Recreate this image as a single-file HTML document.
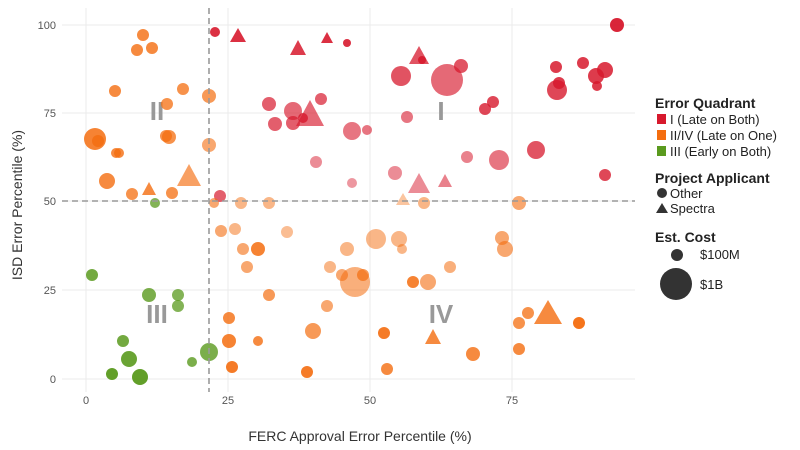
<!DOCTYPE html><html><head><meta charset="utf-8"><style>body{margin:0;background:#fff}svg{display:block;font-family:"Liberation Sans",sans-serif}</style></head><body>
<svg width="800" height="450" xmlns="http://www.w3.org/2000/svg">
<g stroke="#ebebeb" stroke-width="1">
<line x1="86" y1="8" x2="86" y2="392"/><line x1="228" y1="8" x2="228" y2="392"/><line x1="370" y1="8" x2="370" y2="392"/><line x1="512" y1="8" x2="512" y2="392"/>
<line x1="62" y1="25" x2="635" y2="25"/><line x1="62" y1="113" x2="635" y2="113"/><line x1="62" y1="201" x2="635" y2="201"/><line x1="62" y1="290" x2="635" y2="290"/><line x1="62" y1="379" x2="635" y2="379"/>
</g>
<g fill="#555" font-size="11" text-anchor="end">
<text x="56" y="29">100</text><text x="56" y="117">75</text><text x="56" y="205">50</text><text x="56" y="294">25</text><text x="56" y="383">0</text></g>
<g fill="#555" font-size="11" text-anchor="middle">
<text x="86" y="404">0</text><text x="228" y="404">25</text><text x="370" y="404">50</text><text x="512" y="404">75</text></g>
<text x="360" y="441" font-size="14" fill="#333" text-anchor="middle">FERC Approval Error Percentile (%)</text>
<text transform="translate(22,205) rotate(-90)" font-size="14" fill="#333" text-anchor="middle">ISD Error Percentile (%)</text>
<g fill="#999" font-size="26" font-weight="bold" text-anchor="middle">
<text x="157" y="120">II</text><text x="441" y="120">I</text><text x="157" y="323">III</text><text x="441" y="323">IV</text></g>
<g fill="#d7192d">
<circle cx="215" cy="32" r="5" opacity=".9"/><circle cx="347" cy="43" r="4" opacity=".9"/><circle cx="401" cy="76" r="10" opacity=".75"/><circle cx="422" cy="60" r="4" opacity=".9"/><circle cx="447" cy="80" r="16" opacity=".65"/><circle cx="461" cy="66" r="7" opacity=".75"/><circle cx="493" cy="102" r="6" opacity=".8"/><circle cx="485" cy="109" r="6" opacity=".8"/><circle cx="556" cy="67" r="6" opacity=".85"/><circle cx="557" cy="90" r="10" opacity=".8"/><circle cx="559" cy="83" r="6" opacity=".85"/><circle cx="583" cy="63" r="6" opacity=".85"/><circle cx="596" cy="76" r="8" opacity=".85"/><circle cx="605" cy="70" r="8" opacity=".85"/><circle cx="597" cy="86" r="5" opacity=".85"/><circle cx="617" cy="25" r="7" opacity=".95"/><circle cx="269" cy="104" r="7" opacity=".7"/><circle cx="275" cy="124" r="7" opacity=".7"/><circle cx="293" cy="111" r="9" opacity=".65"/><circle cx="293" cy="123" r="7" opacity=".7"/><circle cx="303" cy="118" r="5" opacity=".8"/><circle cx="321" cy="99" r="6" opacity=".7"/><circle cx="352" cy="131" r="9" opacity=".6"/><circle cx="367" cy="130" r="5" opacity=".6"/><circle cx="316" cy="162" r="6" opacity=".5"/><circle cx="352" cy="183" r="5" opacity=".45"/><circle cx="395" cy="173" r="7" opacity=".5"/><circle cx="407" cy="117" r="6" opacity=".6"/><circle cx="467" cy="157" r="6" opacity=".55"/><circle cx="499" cy="160" r="10" opacity=".6"/><circle cx="536" cy="150" r="9" opacity=".75"/><circle cx="605" cy="175" r="6" opacity=".8"/><circle cx="220" cy="196" r="6" opacity=".7"/>
<polygon points="238,28 246,42 230,42" opacity=".9"/><polygon points="298,40 306,55 290,55" opacity=".85"/><polygon points="327,32 333,43 321,43" opacity=".9"/><polygon points="419,46 429,64 409,64" opacity=".75"/><polygon points="310,100 324,126 296,126" opacity=".65"/><polygon points="419,173 430,193 408,193" opacity=".5"/><polygon points="445,174 452,187 438,187" opacity=".55"/>
</g>
<g fill="#f46d0f">
<circle cx="143" cy="35" r="6" opacity=".8"/><circle cx="137" cy="50" r="6" opacity=".8"/><circle cx="152" cy="48" r="6" opacity=".8"/><circle cx="115" cy="91" r="6" opacity=".8"/><circle cx="183" cy="89" r="6" opacity=".75"/><circle cx="209" cy="96" r="7" opacity=".7"/><circle cx="167" cy="104" r="6" opacity=".75"/><circle cx="95" cy="139" r="11" opacity=".85"/><circle cx="98" cy="141" r="6" opacity=".8"/><circle cx="116" cy="153" r="5" opacity=".8"/><circle cx="119" cy="153" r="5" opacity=".8"/><circle cx="107" cy="181" r="8" opacity=".8"/><circle cx="132" cy="194" r="6" opacity=".75"/><circle cx="166" cy="136" r="6" opacity=".75"/><circle cx="169" cy="137" r="7" opacity=".75"/><circle cx="172" cy="193" r="6" opacity=".75"/><circle cx="209" cy="145" r="7" opacity=".6"/>
<polygon points="149,182 156,195 142,195" opacity=".8"/><polygon points="189,164 201,186 177,186" opacity=".65"/>
<circle cx="214" cy="203" r="5" opacity=".6"/><circle cx="241" cy="203" r="6" opacity=".5"/><circle cx="269" cy="203" r="6" opacity=".5"/><circle cx="221" cy="231" r="6" opacity=".6"/><circle cx="235" cy="229" r="6" opacity=".5"/><circle cx="243" cy="249" r="6" opacity=".6"/><circle cx="258" cy="249" r="7" opacity=".85"/><circle cx="247" cy="267" r="6" opacity=".6"/><circle cx="287" cy="232" r="6" opacity=".45"/><circle cx="269" cy="295" r="6" opacity=".7"/><circle cx="229" cy="318" r="6" opacity=".8"/><circle cx="229" cy="341" r="7" opacity=".85"/><circle cx="258" cy="341" r="5" opacity=".8"/><circle cx="232" cy="367" r="6" opacity=".9"/><circle cx="307" cy="372" r="6" opacity=".9"/><circle cx="313" cy="331" r="8" opacity=".7"/><circle cx="327" cy="306" r="6" opacity=".6"/><circle cx="330" cy="267" r="6" opacity=".5"/><circle cx="347" cy="249" r="7" opacity=".5"/><circle cx="342" cy="275" r="6" opacity=".6"/><circle cx="355" cy="282" r="15" opacity=".55"/><circle cx="363" cy="275" r="6" opacity=".7"/>
<polygon points="403,193 410,205 396,205" opacity=".4"/><circle cx="424" cy="203" r="6" opacity=".5"/><circle cx="519" cy="203" r="7" opacity=".6"/><circle cx="376" cy="239" r="10" opacity=".5"/><circle cx="399" cy="239" r="8" opacity=".5"/><circle cx="402" cy="249" r="5" opacity=".5"/><circle cx="502" cy="238" r="7" opacity=".6"/><circle cx="505" cy="249" r="8" opacity=".6"/><circle cx="450" cy="267" r="6" opacity=".55"/><circle cx="413" cy="282" r="6" opacity=".85"/><circle cx="428" cy="282" r="8" opacity=".6"/><circle cx="384" cy="333" r="6" opacity=".9"/><polygon points="433,329 441,344 425,344" opacity=".8"/><circle cx="387" cy="369" r="6" opacity=".8"/><circle cx="473" cy="354" r="7" opacity=".8"/><circle cx="519" cy="323" r="6" opacity=".75"/><circle cx="528" cy="313" r="6" opacity=".75"/><polygon points="548,300 562,324 534,324" opacity=".8"/><circle cx="579" cy="323" r="6" opacity=".95"/><circle cx="519" cy="349" r="6" opacity=".8"/>
</g>
<g fill="#5a9a1e">
<circle cx="155" cy="203" r="5" opacity=".75"/><circle cx="92" cy="275" r="6" opacity=".85"/><circle cx="149" cy="295" r="7" opacity=".8"/><circle cx="178" cy="295" r="6" opacity=".75"/><circle cx="178" cy="306" r="6" opacity=".75"/><circle cx="123" cy="341" r="6" opacity=".85"/><circle cx="129" cy="359" r="8" opacity=".9"/><circle cx="112" cy="374" r="6" opacity=".95"/><circle cx="140" cy="377" r="8" opacity=".95"/><circle cx="192" cy="362" r="5" opacity=".8"/><circle cx="209" cy="352" r="9" opacity=".8"/>
</g>
<g stroke="#999" stroke-width="1.6" stroke-dasharray="6,4">
<line x1="209" y1="8" x2="209" y2="392"/><line x1="62" y1="201" x2="635" y2="201"/></g>
<g font-size="13" fill="#222">
<text x="655" y="108" font-weight="bold" font-size="14">Error Quadrant</text>
<rect x="657" y="114" width="9" height="10" fill="#d7192d"/><text x="670" y="124">I  (Late on Both)</text>
<rect x="657" y="130" width="9" height="10" fill="#f46d0f"/><text x="670" y="140">II/IV  (Late on One)</text>
<rect x="657" y="146" width="9" height="10" fill="#5a9a1e"/><text x="670" y="156">III  (Early on Both)</text>
<text x="655" y="183" font-weight="bold" font-size="14">Project Applicant</text>
<circle cx="662" cy="193" r="5" fill="#333"/><text x="670" y="198">Other</text>
<polygon points="662,203 668,213 656,213" fill="#333"/><text x="670" y="213">Spectra</text>
<text x="655" y="242" font-weight="bold" font-size="14">Est. Cost</text>
<circle cx="677" cy="255" r="6" fill="#333"/><text x="700" y="259">$100M</text>
<circle cx="676" cy="284" r="16" fill="#333"/><text x="700" y="289">$1B</text>
</g>
</svg></body></html>
